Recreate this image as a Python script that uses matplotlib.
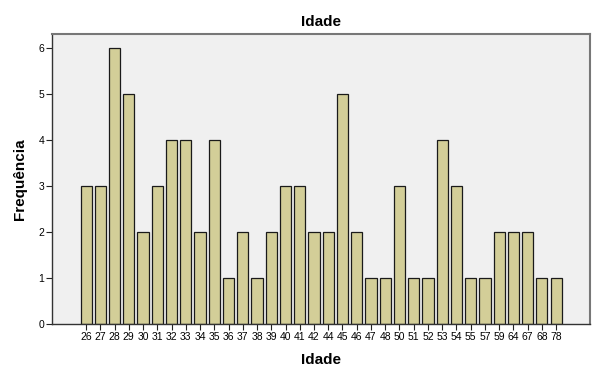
import matplotlib
matplotlib.use("Agg")
import matplotlib.pyplot as plt
import numpy as np

idades = ["26", "27", "28", "29", "30", "31", "32", "33", "34", "35", "36", "37",
          "38", "39", "40", "41", "42", "44", "45", "46", "47", "48", "50", "51",
          "52", "53", "54", "55", "57", "59", "64", "67", "68", "78"]
frequencia = [3, 3, 6, 5, 2, 3, 4, 4, 2, 4, 1, 2,
              1, 2, 3, 3, 2, 2, 5, 2, 1, 1, 3, 1,
              1, 4, 3, 1, 1, 2, 2, 2, 1, 1]

plt.rcParams['font.family'] = ['Liberation Sans', 'DejaVu Sans']

fig = plt.figure(figsize=(5.98, 3.82), dpi=100)
ax = fig.add_axes([0.087, 0.152, 0.9, 0.759])
ax.set_facecolor('#f0f0f0')

x = np.arange(len(idades))
ax.bar(x, frequencia, width=0.78, color='#d3ce98', edgecolor='#1a1a1a', linewidth=0.9, zorder=2)

ax.set_xlim(-2.39, len(idades) - 1 + 2.39)
ax.set_ylim(0, 6.3)
ax.set_xticks(x)
ax.set_xticklabels(idades, fontsize=7.5)
ax.set_yticks(range(0, 7))
ax.tick_params(axis='both', labelsize=7.5, length=4, width=0.8, color='#222222', pad=1.5)

for s in ['top', 'right']:
    ax.spines[s].set_color('#777777')
    ax.spines[s].set_linewidth(1.5)
for s in ['left', 'bottom']:
    ax.spines[s].set_color('#333333')
    ax.spines[s].set_linewidth(1.0)

ax.set_title('Idade', fontsize=11, fontweight='bold', pad=6)
ax.set_xlabel('Idade', fontsize=11, fontweight='bold', labelpad=8)
ax.set_ylabel('Frequência', fontsize=11, fontweight='bold', labelpad=8)

fig.savefig('out.png', dpi=100)
